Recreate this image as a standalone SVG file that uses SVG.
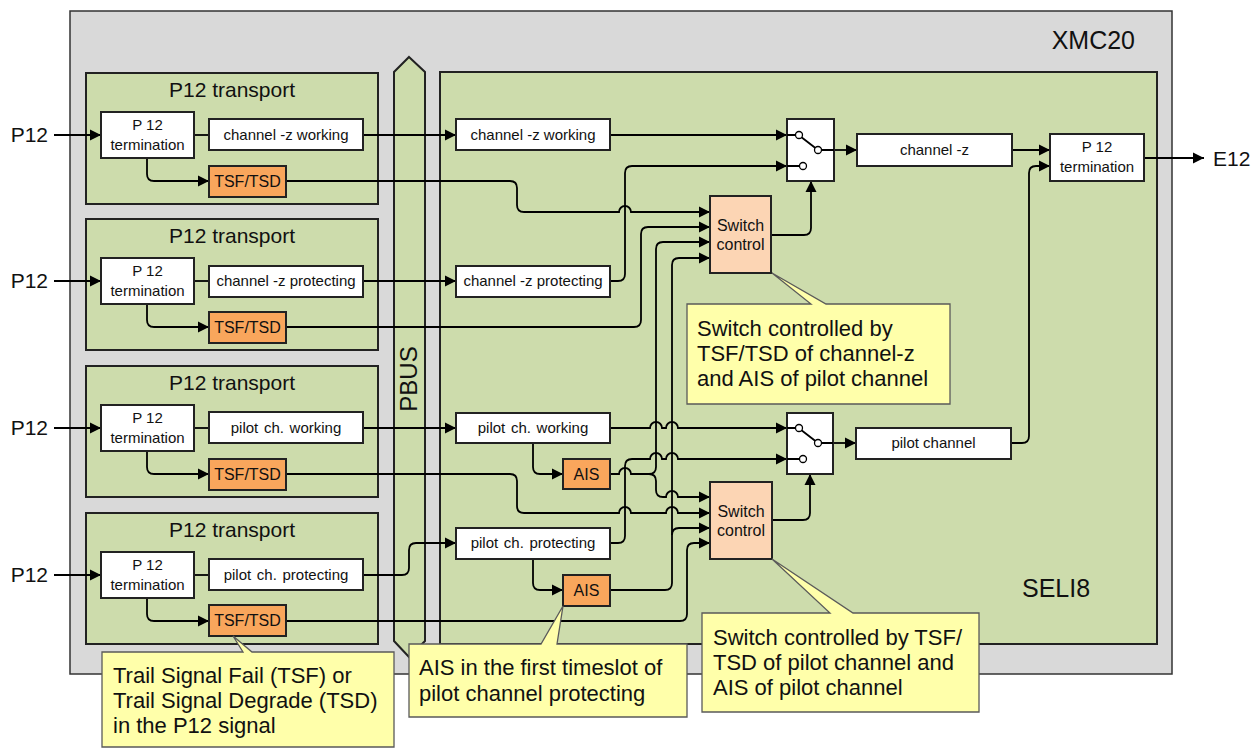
<svg xmlns="http://www.w3.org/2000/svg" width="1260" height="749" viewBox="0 0 1260 749">
  <style>
    text { font-family: "Liberation Sans", Arial, sans-serif; fill: #111; }
    .frame { fill: #d9d9d9; stroke: #333; stroke-width: 1.5; }
    .green { fill: #cddcac; stroke: #222; stroke-width: 2; }
    .box { fill: #fff; stroke: #222; stroke-width: 2; }
    .alarm { fill: #f9a65c; stroke: #222; stroke-width: 2; }
    .ctrl { fill: #fcd5b4; stroke: #222; stroke-width: 2; }
    .note { fill: #ffffaa; stroke: #5a5a5a; stroke-width: 1.3; }
    .wire { fill: none; stroke: #000; stroke-width: 1.8; }
    .arr { marker-end: url(#head); }
    .pin { fill: #fff; stroke: #000; stroke-width: 1.3; }
    .t15 { font-size: 15px; text-anchor: middle; }
    .t16 { font-size: 16px; text-anchor: middle; }
    .title { font-size: 21px; text-anchor: middle; }
    .port { font-size: 21px; }
    .big { font-size: 25px; }
    .nt { font-size: 22px; }
  </style>
  <defs>
    <marker id="head" viewBox="0 0 12 12" refX="11" refY="6" markerWidth="12" markerHeight="12" markerUnits="userSpaceOnUse" orient="auto">
      <path d="M0,0.5 L11,6 L0,11.5 Z" fill="#000"/>
    </marker>
  </defs>

  <!-- chassis -->
  <g id="xmc20">
    <rect class="frame" x="70" y="11" width="1102" height="663"/>
    <text class="big" x="1135" y="49" text-anchor="end">XMC20</text>
  </g>

  <!-- P12 transport units -->
  <g id="transport1"><rect class="green" x="86" y="73" width="292" height="131"/><text class="title" x="232" y="97">P12 transport</text></g>
  <g id="transport2"><rect class="green" x="86" y="219" width="292" height="131"/><text class="title" x="232" y="243">P12 transport</text></g>
  <g id="transport3"><rect class="green" x="86" y="366" width="292" height="131"/><text class="title" x="232" y="390">P12 transport</text></g>
  <g id="transport4"><rect class="green" x="86" y="513" width="292" height="131"/><text class="title" x="232" y="537">P12 transport</text></g>

  <!-- backplane bus -->
  <g id="pbus">
    <path class="green" d="M409,57 L425,72 V641 L409,657 L394,641 V72 Z"/>
    <text transform="translate(417,379) rotate(-90)" font-size="24" text-anchor="middle">PBUS</text>
  </g>

  <!-- SELI8 unit -->
  <g id="seli8">
    <rect class="green" x="440" y="72" width="717" height="572"/>
    <text class="big" x="1022" y="597">SELI8</text>
  </g>

  <!-- connectors -->
  <g id="connectors">
    <!-- inputs -->
    <path class="wire arr" d="M54,135 H101"/>
    <path class="wire arr" d="M54,281 H101"/>
    <path class="wire arr" d="M54,428 H101"/>
    <path class="wire arr" d="M54,575 H101"/>
    <!-- termination to channel boxes -->
    <path class="wire" d="M194,135 H209"/>
    <path class="wire" d="M194,281 H209"/>
    <path class="wire" d="M194,428 H209"/>
    <path class="wire" d="M194,575 H209"/>
    <!-- termination to TSF/TSD -->
    <path class="wire arr" d="M147,158 V174 Q147,181 154,181 H209"/>
    <path class="wire arr" d="M147,304 V320 Q147,327 154,327 H209"/>
    <path class="wire arr" d="M147,451 V467 Q147,474 154,474 H209"/>
    <path class="wire arr" d="M147,598 V614 Q147,621 154,621 H209"/>
    <!-- across the bus -->
    <path class="wire arr" d="M363,135 H456"/>
    <path class="wire arr" d="M363,281 H456"/>
    <path class="wire arr" d="M363,428 H456"/>
    <path class="wire arr" d="M363,575 H402 Q409,575 409,568 V550 Q409,543 416,543 H456"/>
    <!-- channel -z to switch 1 -->
    <path class="wire arr" d="M610,135 H787"/>
    <path class="wire arr" d="M610,281 H618 Q625,281 625,274 V173 Q625,166 632,166 H787"/>
    <!-- switch control 1 inputs -->
    <path class="wire arr" d="M286,181 H510 Q517,181 517,188 V205 Q517,212 524,212 H619 A6,6 0 0 1 631,212 H710"/>
    <path class="wire arr" d="M286,327 H634 Q641,327 641,320 V234 Q641,227 648,227 H710"/>
    <path class="wire arr" d="M610,474 H619 A6,6 0 0 1 631,474 H649 Q656,474 656,467 V249 Q656,242 663,242 H710"/>
    <path class="wire arr" d="M649,474 Q656,474 656,481 V490 Q656,497 663,497 H666 A6,6 0 0 1 678,497 H710"/>
    <path class="wire arr" d="M610,590 H665 Q672,590 672,583 V265 Q672,258 679,258 H710"/>
    <path class="wire arr" d="M672,535 Q672,528 679,528 H710"/>
    <!-- switch control 2 inputs -->
    <path class="wire arr" d="M286,474 H510 Q517,474 517,481 V506 Q517,513 524,513 H619 A6,6 0 0 1 631,513 H666 A6,6 0 0 1 678,513 H710"/>
    <path class="wire arr" d="M286,621 H680 Q687,621 687,614 V550 Q687,543 694,543 H710"/>
    <!-- pilot channel to switch 2 -->
    <path class="wire arr" d="M610,428 H650 A6,6 0 0 1 662,428 H666 A6,6 0 0 1 678,428 H787"/>
    <path class="wire arr" d="M610,543 H618 Q625,543 625,536 V466 Q625,459 632,459 H650 A6,6 0 0 1 662,459 H666 A6,6 0 0 1 678,459 H787"/>
    <!-- AIS detectors -->
    <path class="wire arr" d="M533,443 V467 Q533,474 540,474 H563"/>
    <path class="wire arr" d="M533,559 V583 Q533,590 540,590 H563"/>
    <!-- switch control outputs -->
    <path class="wire arr" d="M771,235 H804 Q811,235 811,228 V181"/>
    <path class="wire arr" d="M772,520 H803 Q810,520 810,513 V474"/>
    <!-- switch outputs -->
    <path class="wire arr" d="M834,150 H857"/>
    <path class="wire arr" d="M833,443 H856"/>
    <path class="wire arr" d="M1012,150 H1050"/>
    <path class="wire arr" d="M1011,443 H1022 Q1029,443 1029,436 V173 Q1029,166 1036,166 H1050"/>
    <path class="wire arr" d="M1144,158 H1204"/>
  </g>

  <!-- left column nodes -->
  <g id="term1"><rect class="box" x="101" y="112" width="93" height="46"/><text class="t15" x="147.5" y="130">P 12</text><text class="t15" x="147.5" y="150">termination</text></g>
  <g id="term2"><rect class="box" x="101" y="258" width="93" height="46"/><text class="t15" x="147.5" y="276">P 12</text><text class="t15" x="147.5" y="296">termination</text></g>
  <g id="term3"><rect class="box" x="101" y="405" width="93" height="46"/><text class="t15" x="147.5" y="423">P 12</text><text class="t15" x="147.5" y="443">termination</text></g>
  <g id="term4"><rect class="box" x="101" y="552" width="93" height="46"/><text class="t15" x="147.5" y="570">P 12</text><text class="t15" x="147.5" y="590">termination</text></g>

  <g id="chz-w-in"><rect class="box" x="209" y="119" width="154" height="31"/><text class="t15" x="286" y="140">channel -z working</text></g>
  <g id="chz-p-in"><rect class="box" x="209" y="266" width="154" height="31"/><text class="t15" x="286" y="286">channel -z protecting</text></g>
  <g id="pil-w-in"><rect class="box" x="209" y="412" width="154" height="31"/><text class="t15" x="286" y="433" word-spacing="1.5">pilot ch. working</text></g>
  <g id="pil-p-in"><rect class="box" x="209" y="559" width="154" height="31"/><text class="t15" x="286" y="580" word-spacing="1.5">pilot ch. protecting</text></g>

  <g id="tsf1"><rect class="alarm" x="209" y="166" width="77" height="31"/><text class="t16" x="247.5" y="187">TSF/TSD</text></g>
  <g id="tsf2"><rect class="alarm" x="209" y="312" width="77" height="31"/><text class="t16" x="247.5" y="333">TSF/TSD</text></g>
  <g id="tsf3"><rect class="alarm" x="209" y="459" width="77" height="31"/><text class="t16" x="247.5" y="480">TSF/TSD</text></g>
  <g id="tsf4"><rect class="alarm" x="209" y="605" width="77" height="31"/><text class="t16" x="247.5" y="626">TSF/TSD</text></g>

  <g id="port-labels">
    <text class="port" x="48" y="142" text-anchor="end">P12</text>
    <text class="port" x="48" y="288" text-anchor="end">P12</text>
    <text class="port" x="48" y="435" text-anchor="end">P12</text>
    <text class="port" x="48" y="582" text-anchor="end">P12</text>
    <text class="port" x="1213" y="166">E12</text>
  </g>

  <!-- SELI8 nodes -->
  <g id="chz-w"><rect class="box" x="456" y="119" width="154" height="31"/><text class="t15" x="533" y="140">channel -z working</text></g>
  <g id="chz-p"><rect class="box" x="456" y="266" width="154" height="31"/><text class="t15" x="533" y="286">channel -z protecting</text></g>
  <g id="pil-w"><rect class="box" x="456" y="413" width="154" height="30"/><text class="t15" x="533" y="433" word-spacing="1.5">pilot ch. working</text></g>
  <g id="pil-p"><rect class="box" x="456" y="528" width="154" height="31"/><text class="t15" x="533" y="548" word-spacing="1.5">pilot ch. protecting</text></g>

  <g id="ais1"><rect class="alarm" x="563" y="459" width="47" height="30"/><text class="t16" x="586.5" y="480">AIS</text></g>
  <g id="ais2"><rect class="alarm" x="563" y="575" width="47" height="31"/><text class="t16" x="586.5" y="596">AIS</text></g>

  <g id="swctl1"><rect class="ctrl" x="710" y="196" width="61" height="77"/><text class="t16" x="740.5" y="231">Switch</text><text class="t16" x="740.5" y="250">control</text></g>
  <g id="swctl2"><rect class="ctrl" x="710" y="482" width="62" height="77"/><text class="t16" x="741" y="517">Switch</text><text class="t16" x="741" y="536">control</text></g>

  <g id="switch1">
    <rect class="box" x="787" y="119" width="47" height="62"/>
    <path class="wire" d="M787,135 H795.5 M787,166 H799.5 M821.5,150 H834 M801.5,137.2 L815.4,148"/>
    <circle class="pin" cx="799" cy="135" r="3.5"/>
    <circle class="pin" cx="803" cy="166" r="3.5"/>
    <circle class="pin" cx="818" cy="150" r="3.5"/>
  </g>
  <g id="switch2">
    <rect class="box" x="787" y="413" width="46" height="61"/>
    <path class="wire" d="M787,428 H795.5 M787,459 H799.5 M821.5,443 H833 M801.5,430.2 L815.4,441"/>
    <circle class="pin" cx="799" cy="428" r="3.5"/>
    <circle class="pin" cx="803" cy="459" r="3.5"/>
    <circle class="pin" cx="818" cy="443" r="3.5"/>
  </g>

  <g id="chz-out"><rect class="box" x="857" y="134" width="155" height="32"/><text class="t15" x="934.5" y="155">channel -z</text></g>
  <g id="pil-out"><rect class="box" x="856" y="428" width="155" height="31"/><text class="t15" x="933.5" y="448">pilot channel</text></g>
  <g id="term-out"><rect class="box" x="1050" y="134" width="94" height="47"/><text class="t15" x="1097" y="152">P 12</text><text class="t15" x="1097" y="172">termination</text></g>

  <!-- callouts -->
  <g id="note-swctl1">
    <path class="note" d="M687,304 H811 L772,273 L826,304 H950 V404 H687 Z"/>
    <text class="nt" x="697" y="336">Switch controlled by</text>
    <text class="nt" x="697" y="361">TSF/TSD of channel-z</text>
    <text class="nt" x="697" y="386">and AIS of pilot channel</text>
  </g>
  <g id="note-swctl2">
    <path class="note" d="M702,613 H830 L772,559 L853,613 H979 V712 H702 Z"/>
    <text class="nt" x="713" y="645">Switch controlled by TSF/</text>
    <text class="nt" x="713" y="670">TSD of pilot channel and</text>
    <text class="nt" x="713" y="695">AIS of pilot channel</text>
  </g>
  <g id="note-ais">
    <path class="note" d="M409,644 H541 L563,606 L557,644 H687 V717 H409 Z"/>
    <text class="nt" x="419" y="675">AIS in the first timeslot of</text>
    <text class="nt" x="419" y="701">pilot channel protecting</text>
  </g>
  <g id="note-tsf">
    <path class="note" d="M102,652 H243 L233,636 L252,652 H394 V747 H102 Z"/>
    <text class="nt" x="113" y="683">Trail Signal Fail (TSF) or</text>
    <text class="nt" x="113" y="708">Trail Signal Degrade (TSD)</text>
    <text class="nt" x="113" y="733">in the P12 signal</text>
  </g>
</svg>
